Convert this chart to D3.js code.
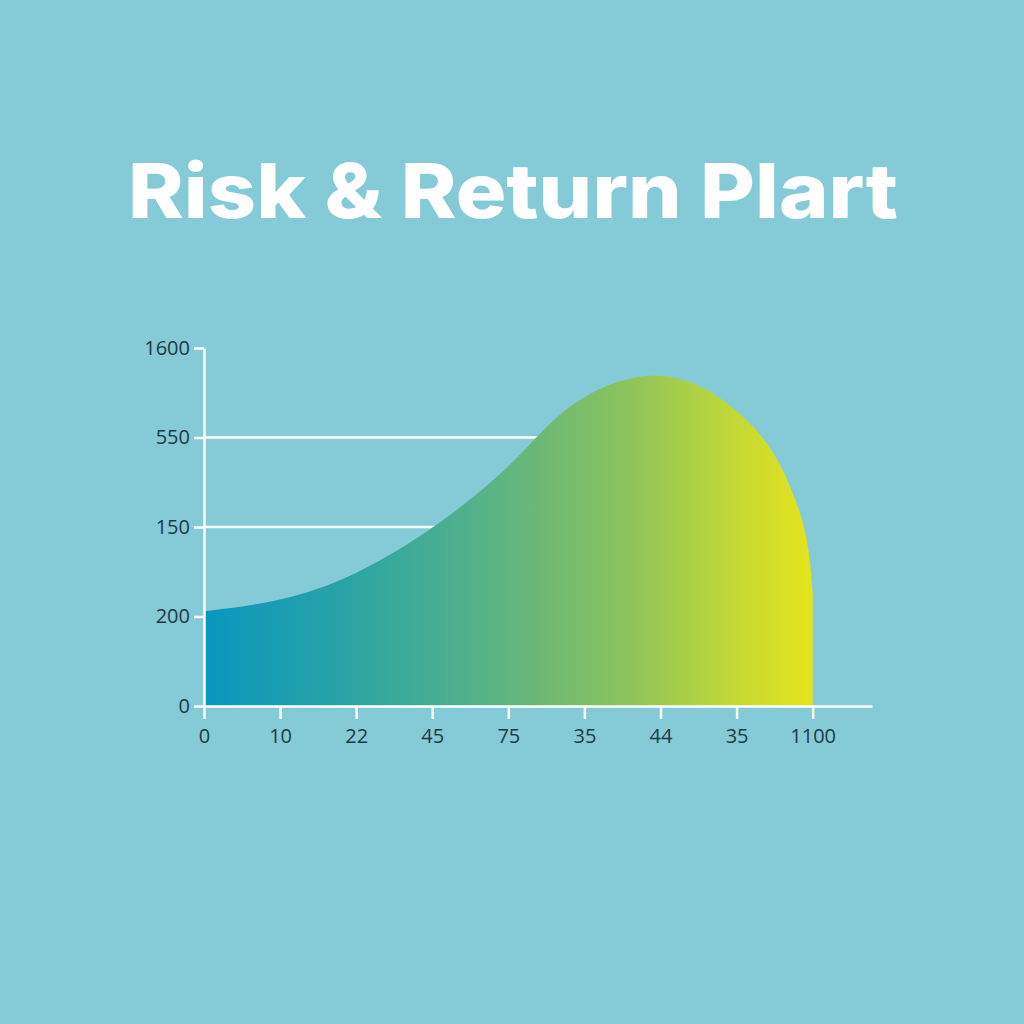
<!DOCTYPE html>
<html>
<head>
<meta charset="utf-8">
<script src="https://cdn.jsdelivr.net/npm/d3@7"></script>
<style>
  html, body { margin: 0; padding: 0; background: #84cbd7; }
  svg { display: block; }
</style>
</head>
<body>
<svg id="chart"></svg>
<script>
// tick labels as printed on the picture
const xLabels = ["0", "10", "22", "45", "75", "35", "44", "35", "1100"];
const yLabels = ["0", "200", "150", "550", "1600"];

// curve: position along the x ticks (tick index) and height in y-tick steps
const riskPos =   [0,    1,    1.98, 3.1,  3.98, 4.38, 4.68, 5.07, 5.47, 5.93, 6.39, 6.78, 7.04, 7.31, 7.57, 7.74, 7.87, 7.96, 8];
const returnLvl = [1.06, 1.16, 1.44, 2.02, 2.64, 3.02, 3.27, 3.5,  3.64, 3.72, 3.64, 3.45, 3.27, 3.05, 2.72, 2.38, 2.08, 1.71, 1.26];

// gridlines drawn at these y ticks
const gridLevels = [2, 3];

const gradStops = [
    [0, "#0996bf"], [0.25, "#2ca5a3"], [0.45, "#55b28a"], [0.55, "#6cb874"],
    [0.7, "#8ec45c"], [0.85, "#bcd63a"], [1, "#e6e41a"]
];

const width = 1024, height = 1024;
const svg = d3.select("#chart").attr("width", width).attr("height", height);

svg.append("rect").attr("width", width).attr("height", height).attr("fill", "#84cbd7");

// title
svg.append("text")
    .attr("x", 513)
    .attr("y", 218)
    .attr("text-anchor", "middle")
    .attr("fill", "#ffffff")
    .attr("font-family", "Inter, 'Open Sans', sans-serif")
    .attr("font-weight", 800)
    .attr("font-size", 76)
    .attr("textLength", 770)
    .attr("lengthAdjust", "spacingAndGlyphs")
    .text("Risk & Return Plart");

const x = d3.scaleLinear().domain([0, 8.78]).range([204, 872]);
const y = d3.scaleLinear().domain([0, 4]).range([706, 348]);

const data = riskPos.map((p, i) => ({ p: p, v: returnLvl[i] }));

const defs = svg.append("defs");
const grad = defs.append("linearGradient")
    .attr("id", "areaGrad")
    .attr("gradientUnits", "userSpaceOnUse")
    .attr("x1", x(0)).attr("x2", x(8))
    .attr("y1", 0).attr("y2", 0);
grad.selectAll("stop").data(gradStops).join("stop")
    .attr("offset", d => d[0])
    .attr("stop-color", d => d[1]);

const curve = d3.curveBasis;
const line = d3.line().x(d => x(d.p)).y(d => y(d.v)).curve(curve);
const area = d3.area().x(d => x(d.p)).y0(y(0)).y1(d => y(d.v)).curve(curve);

// hidden top line, used to find where each gridline meets the curve
const topLine = svg.append("path").attr("d", line(data)).attr("fill", "none").attr("stroke", "none");
const meetX = level => {
    const node = topLine.node(), len = node.getTotalLength(), target = y(level);
    for (let s = 0; s <= len; s += 0.5) {
        const pt = node.getPointAtLength(s);
        if (pt.y <= target) return pt.x;
    }
    return x(8);
};

svg.append("g").selectAll("line").data(gridLevels).join("line")
    .attr("x1", x(0))
    .attr("x2", d => meetX(d) + 1)
    .attr("y1", d => y(d))
    .attr("y2", d => y(d))
    .attr("stroke", "#ffffff")
    .attr("stroke-width", 2.5);

svg.append("path")
    .attr("d", area(data))
    .attr("fill", "url(#areaGrad)");

// axes
const xAxis = svg.append("g")
    .attr("transform", `translate(0, ${y(0)})`)
    .call(d3.axisBottom(x).tickValues(d3.range(xLabels.length))
        .tickFormat(i => xLabels[i]).tickSize(13).tickSizeOuter(0).tickPadding(10));

const yAxis = svg.append("g")
    .attr("transform", `translate(${x(0)}, 0)`)
    .call(d3.axisLeft(y).tickValues(d3.range(yLabels.length))
        .tickFormat(i => yLabels[i]).tickSize(10).tickSizeOuter(0).tickPadding(4));

[xAxis, yAxis].forEach(g => {
    g.selectAll("path, line").attr("stroke", "#ffffff").attr("stroke-width", 2.5);
    g.selectAll("text")
        .attr("fill", "#1f3a44")
        .attr("font-family", "'Open Sans', sans-serif")
        .attr("font-size", 20);
});
</script>
</body>
</html>
